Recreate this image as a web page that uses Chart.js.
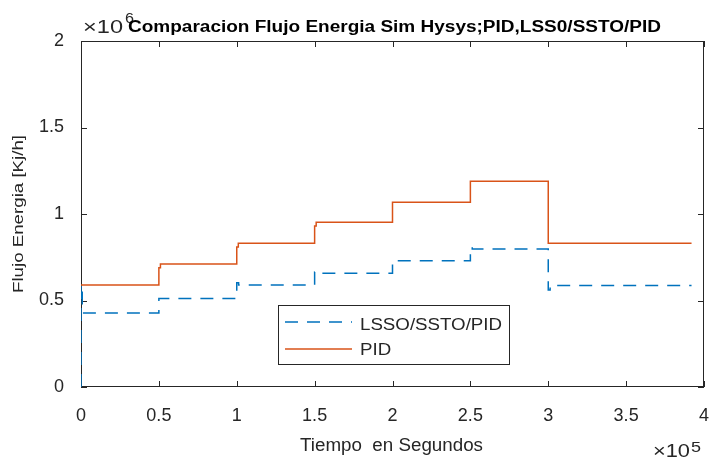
<!DOCTYPE html>
<html>
<head>
<meta charset="utf-8">
<script src="https://cdn.jsdelivr.net/npm/chart.js@4.4.1/dist/chart.umd.min.js"></script>
<style>
body { margin: 0; background: #fff; }
</style>
</head>
<body>
<canvas id="chart" width="714" height="462"></canvas>
<script>
// tiempo en segundos, flujo en Kj/h (cada punto: desde ese tiempo vale ese flujo)
const tiempoLSSO = [0, 0, 800, 50000, 100000, 101200, 150000, 151200, 200000, 250000, 251200, 300000, 301200, 392000]
const flujoLSSO = [0, 590000, 428000, 512000, 602000, 590000, 665000, 657000, 730000, 808000, 798000, 561000, 586000, 586000]
const tiempoPID = [0, 50000, 51000, 100000, 101000, 150000, 151000, 200000, 250000, 300000, 392000]
const flujoPID = [590000, 690000, 711000, 809000, 831000, 930000, 952000, 1068000, 1189000, 831000, 831000]
const xTicks = [0, 50000, 100000, 150000, 200000, 250000, 300000, 350000, 400000]
const yTicks = [0, 500000, 1000000, 1500000, 2000000]

const titulo = 'Comparacion Flujo Energia Sim Hysys;PID,LSS0/SSTO/PID'
const ejeX = 'Tiempo  en Segundos'
const ejeY = 'Flujo Energia [Kj/h]'
const font = '"Liberation Sans", Arial, sans-serif'
const ink = '#262626'

const toPoints = (xs, ys) => xs.map((x, i) => ({x: x, y: ys[i]}))
const fmt = v => String(Math.round(v * 100) / 100)

// escribe texto estirado al ancho medido en la figura
function fitText(ctx, text, x, y, w) {
    const m = ctx.measureText(text).width
    ctx.save()
    ctx.translate(x, y)
    ctx.scale(w / m, 1)
    ctx.textAlign = 'left'
    ctx.fillText(text, 0, 0)
    ctx.restore()
}

const frame = {
    id: 'frame',
    beforeDatasetsDraw(chart) {
        const ctx = chart.ctx
        const a = chart.chartArea
        const xs = chart.scales.x
        const ys = chart.scales.y
        ctx.save()
        ctx.strokeStyle = ink
        ctx.lineWidth = 1
        ctx.strokeRect(a.left + 0.5, a.top + 0.5, a.right - a.left - 1, a.bottom - a.top - 1)
        ctx.beginPath()
        xTicks.forEach(v => {
            const px = Math.round(xs.getPixelForValue(v)) + 0.5
            ctx.moveTo(px, a.bottom); ctx.lineTo(px, a.bottom - 6)
            ctx.moveTo(px, a.top); ctx.lineTo(px, a.top + 6)
        })
        yTicks.forEach(v => {
            const py = Math.round(ys.getPixelForValue(v)) + 0.5
            ctx.moveTo(a.left, py); ctx.lineTo(a.left + 6, py)
            ctx.moveTo(a.right, py); ctx.lineTo(a.right - 6, py)
        })
        ctx.stroke()
        ctx.restore()
    },
    afterDraw(chart) {
        const ctx = chart.ctx
        ctx.save()
        ctx.textBaseline = 'alphabetic'
        // exponentes
        ctx.fillStyle = ink
        ctx.font = '18px ' + font
        fitText(ctx, '\u00d710', 83, 33, 40)
        ctx.font = '14px ' + font
        fitText(ctx, '6', 125, 23, 9)
        ctx.font = '18px ' + font
        fitText(ctx, '\u00d710', 653, 457, 37)
        ctx.font = '14px ' + font
        fitText(ctx, '5', 691, 452, 10)

        // titulo
        ctx.fillStyle = '#000'
        ctx.font = 'bold 16px ' + font
        fitText(ctx, titulo, 128, 32, 533)

        // titulos de ejes
        ctx.fillStyle = ink
        ctx.font = '18px ' + font
        fitText(ctx, ejeX, 300, 451, 183)
        ctx.save()
        ctx.translate(23, 214)
        ctx.rotate(-Math.PI / 2)
        ctx.font = '14px ' + font
        fitText(ctx, ejeY, -79, 0, 158)
        ctx.restore()

        // leyenda
        ctx.fillStyle = '#fff'
        ctx.fillRect(278, 305, 232, 60)
        ctx.strokeStyle = ink
        ctx.lineWidth = 1
        ctx.strokeRect(278.5, 305.5, 231, 59)
        ctx.font = '16px ' + font
        const k = 142 / ctx.measureText(chart.data.datasets[0].label).width
        const lineY = [322, 349]
        const textY = [330, 355]
        chart.data.datasets.forEach((d, i) => {
            ctx.beginPath()
            ctx.strokeStyle = d.borderColor
            ctx.lineWidth = d.borderWidth
            ctx.setLineDash(d.borderDash || [])
            ctx.moveTo(285, lineY[i]); ctx.lineTo(352, lineY[i])
            ctx.stroke()
            ctx.setLineDash([])
            ctx.fillStyle = ink
            fitText(ctx, d.label, 360, textY[i], ctx.measureText(d.label).width * k)
        })
        ctx.restore()
    }
}

const ctx = document.getElementById('chart').getContext('2d')
const myChart = new Chart(ctx, {
    type: 'line',
    data: {
        datasets: [{
            label: 'LSSO/SSTO/PID',
            data: toPoints(tiempoLSSO, flujoLSSO),
            borderColor: '#0072BD',
            borderWidth: 1.5,
            borderDash: [13, 9],
            stepped: 'before',
            pointRadius: 0,
            fill: false
        }, {
            label: 'PID',
            data: toPoints(tiempoPID, flujoPID),
            borderColor: '#D95319',
            borderWidth: 1.5,
            stepped: 'before',
            pointRadius: 0,
            fill: false
        }]
    },
    options: {
        responsive: false,
        animation: false,
        layout: { padding: { left: 0, top: 41, right: 10, bottom: 0 } },
        plugins: { legend: { display: false }, tooltip: { enabled: false } },
        scales: {
            x: {
                type: 'linear',
                min: 0,
                max: 400000,
                afterFit: s => { s.height = 75; s.paddingLeft = 0; s.paddingRight = 0 },
                afterBuildTicks: s => { s.ticks = xTicks.map(v => ({value: v})) },
                grid: { display: false },
                border: { display: false },
                ticks: {
                    color: ink,
                    padding: 10,
                    maxRotation: 0,
                    font: { size: 18, family: font },
                    callback: v => fmt(v / 100000)
                }
            },
            y: {
                min: 0,
                max: 2000000,
                afterFit: s => { s.width = 81; s.paddingTop = 0; s.paddingBottom = 0 },
                afterBuildTicks: s => { s.ticks = yTicks.map(v => ({value: v})) },
                grid: { display: false },
                border: { display: false },
                ticks: {
                    color: ink,
                    padding: 9,
                    font: { size: 18, family: font },
                    callback: v => fmt(v / 1000000)
                }
            }
        }
    },
    plugins: [frame]
})
</script>
</body>
</html>
